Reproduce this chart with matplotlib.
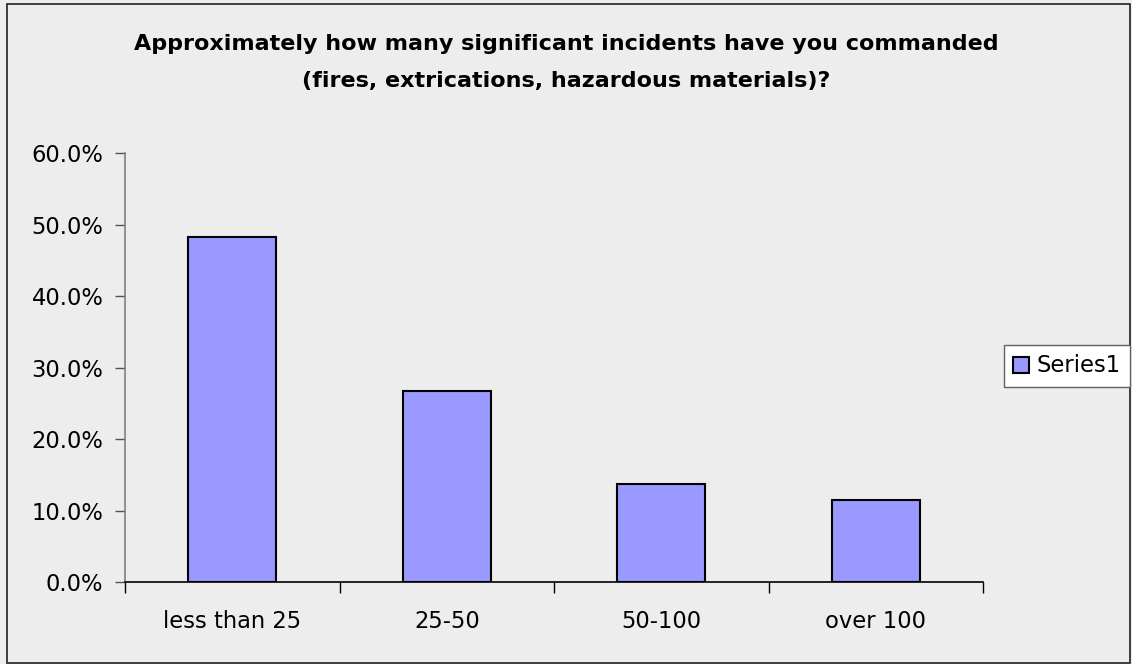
import matplotlib
matplotlib.use("Agg")
import matplotlib.pyplot as plt
from matplotlib.patches import Rectangle

categories = ["less than 25", "25-50", "50-100", "over 100"]
values = [48.3, 26.7, 13.7, 11.4]
yticks = [0, 10, 20, 30, 40, 50, 60]
series_name = "Series1"
title_lines = ["Approximately how many significant incidents have you commanded",
               "(fires, extrications, hazardous materials)?"]

W, H = 1132, 664
bg = "#EDEDED"
fig = plt.figure(figsize=(W / 100, H / 100), dpi=100, facecolor=bg)
plt.rcParams['font.family'] = ['DejaVu Sans']
fs = 16.3

# outer border
fig.patches.append(Rectangle((7 / W, 1 - 663 / H), (1130 - 7) / W, (663 - 4) / H,
                             transform=fig.transFigure, fill=False,
                             edgecolor="#202020", linewidth=1.2))

ax = fig.add_axes([125 / W, 1 - 582 / H, (983 - 125) / W, (582 - 153) / H])
ax.set_facecolor(bg)
x = list(range(len(categories)))
ax.bar(x, values, width=0.41, color="#9999FF", edgecolor="black",
       linewidth=1.5, label=series_name, zorder=3)
ax.set_xlim(-0.5, len(categories) - 0.5)
ax.set_ylim(0, 60)
ax.set_yticks(yticks)
ax.set_yticklabels([f"{v:.1f}%" for v in yticks], fontsize=fs)
ax.set_xticks(x)
ax.set_xticklabels(categories, fontsize=fs)
ax.tick_params(axis="x", length=0, pad=20)
ax.set_xticks([i - 0.5 for i in range(len(categories) + 1)], minor=True)
ax.tick_params(axis="x", which="minor", length=8, width=1, color="black", direction="out")
ax.tick_params(axis="y", length=7, width=1, color="#555555", direction="out", pad=8.5)
for s in ["top", "right"]:
    ax.spines[s].set_visible(False)
ax.spines["left"].set_color("#808080")
ax.spines["left"].set_linewidth(1.2)
ax.spines["bottom"].set_color("black")
ax.spines["bottom"].set_linewidth(1.2)

fig.text(0.5, 1 - 50 / H, title_lines[0], ha="center", va="baseline", fontsize=16,
         fontweight="bold")
fig.text(0.5, 1 - 87 / H, title_lines[1], ha="center", va="baseline", fontsize=16,
         fontweight="bold")

leg = fig.legend(loc="center", bbox_to_anchor=((1005 + 1129) / 2 / W, 1 - 366 / H),
                 fontsize=fs, frameon=True, fancybox=False, handlelength=0.7,
                 handleheight=0.7, handletextpad=0.35, borderpad=0.4,
                 borderaxespad=0)
leg.get_frame().set_edgecolor("#606060")
leg.get_frame().set_facecolor("white")
leg.get_frame().set_linewidth(1.0)
leg.get_frame().set_alpha(1)

fig.savefig("out.png", dpi=100, facecolor=bg)
